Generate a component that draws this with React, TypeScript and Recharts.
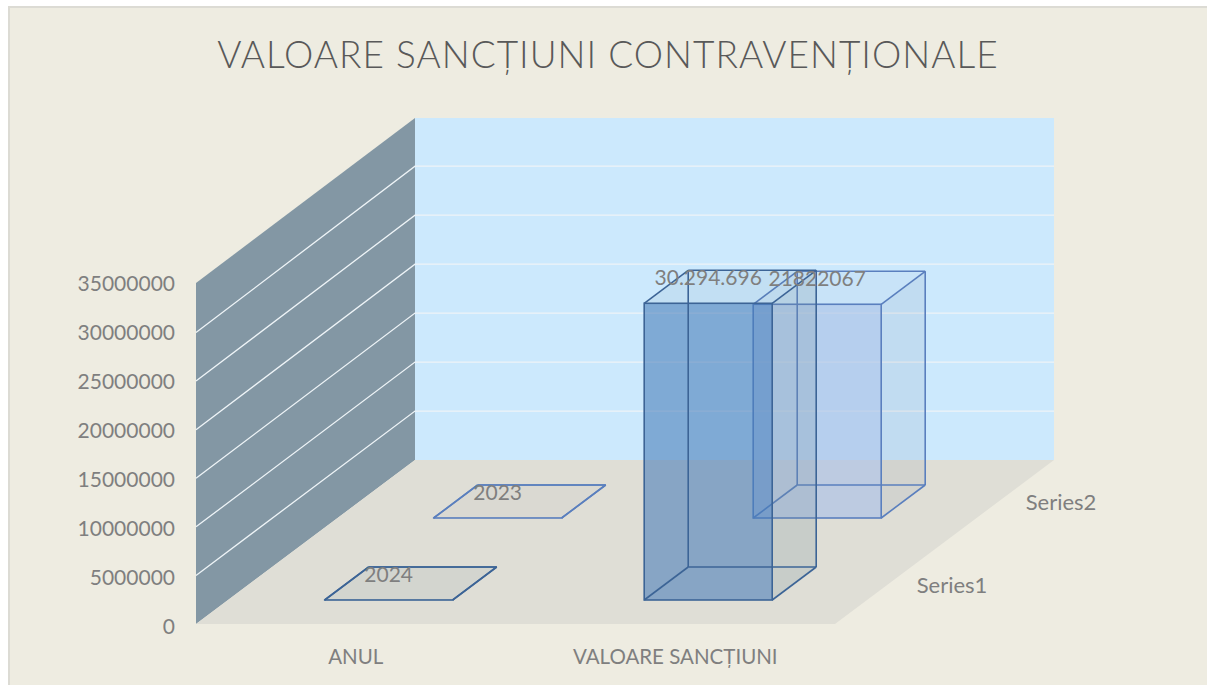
import { Bar, BarChart, CartesianGrid, LabelList, XAxis, YAxis } from "recharts";

const categories = ["ANUL", "VALOARE SANCȚIUNI"];
const series1Values = [2024, 30294696];
const series2Values = [2023, 21822067];
const series1Labels = ["2024", "30.294.696"];
const series2Labels = ["2023", "21822067"];
const yTicks = [0, 5000000, 10000000, 15000000, 20000000, 25000000, 30000000, 35000000];
const depthLabels = ["Series1", "Series2"];

const chartData = categories.map((name, i) => ({
  name,
  series1: series1Values[i],
  series2: series2Values[i],
}));

const FONT = "Lato, 'Noto Sans', sans-serif";
const GREY = "#7f7f7f";

// floor corners, the wall runs back by DEPTH_X / DEPTH_Y
const LEFT = 196;
const RIGHT = 835;
const ZERO_Y = 624;
const TOP_Y = 281.2;
const DEPTH_X = 219;
const DEPTH_Y = 164;

const s1Look = { dx: 32.7, dy: -24, stroke: "#3c6496", front: "rgba(71,124,184,0.58)", side: "rgba(110,140,150,0.2)", top: "rgba(80,110,130,0.08)" };
const s2Look = { dx: 141.7, dy: -106, stroke: "#5a7fbe", front: "rgba(171,194,229,0.67)", side: "rgba(120,140,160,0.13)", top: "rgba(100,110,120,0.04)" };

const BOX_X = 44;
const BOX_Y = 33;

const pts = (list: number[][]) => list.map((p) => p.join(",")).join(" ");

function makeBox(look: typeof s1Look) {
  return (props: any) => {
    const x0 = props.x + look.dx;
    const x1 = x0 + props.width;
    const top = props.y + look.dy;
    const bot = top + props.height;
    const bx = BOX_X;
    const by = BOX_Y;
    const edges = [
      [x0 + bx, bot - by, x1 + bx, bot - by],
      [x0 + bx, top - by, x0 + bx, bot - by],
      [x0, bot, x0 + bx, bot - by],
      [x1, bot, x1 + bx, bot - by],
      [x0, top, x0 + bx, top - by],
      [x1, top, x1 + bx, top - by],
      [x0 + bx, top - by, x1 + bx, top - by],
      [x1 + bx, top - by, x1 + bx, bot - by],
    ];
    return (
      <g>
        <polygon points={pts([[x1, top], [x1 + bx, top - by], [x1 + bx, bot - by], [x1, bot]])} fill={look.side} />
        <polygon points={pts([[x0, top], [x1, top], [x1 + bx, top - by], [x0 + bx, top - by]])} fill={look.top} />
        <rect x={x0} y={top} width={props.width} height={props.height} fill={look.front} />
        {edges.map((e, i) => (
          <line key={i} x1={e[0]} y1={e[1]} x2={e[2]} y2={e[3]} stroke={look.stroke} strokeWidth={1.6} />
        ))}
        <rect x={x0} y={top} width={props.width} height={props.height} fill="none" stroke={look.stroke} strokeWidth={1.6} />
      </g>
    );
  };
}

function makeLabel(look: typeof s1Look, labels: string[]) {
  return (props: any) => (
    <text
      x={props.x + look.dx + props.width / 2}
      y={props.y + look.dy - 18}
      textAnchor="middle"
      fontFamily={FONT}
      fontSize={21}
      fill={GREY}
    >
      {labels[props.index]}
    </text>
  );
}

// grid line: up the left wall, then along the back wall
const wallLine = (props: any) => {
  if (Math.abs(props.y1 - ZERO_Y) < 1 || Math.abs(props.y1 - TOP_Y) < 1) return <g key={props.key} />;
  const leftY = ZERO_Y - (ZERO_Y - props.y1) * 0.992;
  const backY = props.y1 - DEPTH_Y;
  return (
    <polyline
      key={props.key}
      points={pts([[LEFT, leftY], [LEFT + DEPTH_X, backY], [RIGHT + DEPTH_X, backY]])}
      fill="none"
      stroke="#eef4f7"
      strokeWidth={1.3}
    />
  );
};

const yTick = (props: any) => (
  <text x={props.x} y={props.y + 10} textAnchor="end" fontFamily={FONT} fontSize={21} fill={GREY}>
    {props.payload.value}
  </text>
);

function Backdrop() {
  const topBack = ZERO_Y - DEPTH_Y - 342;
  const floorBack = ZERO_Y - DEPTH_Y;
  return (
    <svg width={1207} height={685} style={{ position: "absolute", left: 0, top: 0 }}>
      <rect x={8} y={6} width={1199} height={679} fill="#dcdbd4" />
      <rect x={10} y={8} width={1197} height={677} fill="#eeece1" />
      <polygon points={pts([[LEFT + DEPTH_X, topBack], [RIGHT + DEPTH_X, topBack], [RIGHT + DEPTH_X, floorBack], [LEFT + DEPTH_X, floorBack]])} fill="#cce9fd" />
      <polygon points={pts([[LEFT, 283], [LEFT + DEPTH_X, topBack], [LEFT + DEPTH_X, floorBack], [LEFT, ZERO_Y]])} fill="#8397a4" />
      <polygon points={pts([[LEFT, ZERO_Y], [LEFT + DEPTH_X, floorBack], [RIGHT + DEPTH_X, floorBack], [RIGHT, ZERO_Y]])} fill="#dfded6" />
    </svg>
  );
}

export default function App() {
  return (
    <div style={{ position: "absolute", left: 0, top: 0, width: 1207, height: 685, background: "#fff" }}>
      <Backdrop />
      <div style={{ position: "absolute", left: 0, top: 0 }}>
        <BarChart
          width={1207}
          height={685}
          data={chartData}
          barSize={128}
          barGap={-128}
          margin={{ top: TOP_Y, right: 372, bottom: 21, left: 106 }}
        >
          <text x={608} y={68} textAnchor="middle" fontFamily={FONT} fontSize={37} fontWeight={300} letterSpacing={1} fill="#595959">
            VALOARE SANCȚIUNI CONTRAVENȚIONALE
          </text>
          <CartesianGrid vertical={false} horizontal={wallLine} />
          <XAxis
            dataKey="name"
            axisLine={false}
            tickLine={false}
            tickSize={0}
            tickMargin={25}
            height={40}
            interval={0}
            tick={{ fill: GREY, fontSize: 20.5, fontFamily: FONT }}
          />
          <YAxis
            type="number"
            domain={[0, 35000000]}
            ticks={yTicks}
            interval={0}
            axisLine={false}
            tickLine={false}
            tickSize={0}
            tickMargin={21}
            width={90}
            tick={yTick}
          />
          <Bar dataKey="series2" isAnimationActive={false} shape={makeBox(s2Look)}>
            <LabelList dataKey="series2" content={makeLabel(s2Look, series2Labels)} />
          </Bar>
          <Bar dataKey="series1" isAnimationActive={false} shape={makeBox(s1Look)}>
            <LabelList dataKey="series1" content={makeLabel(s1Look, series1Labels)} />
          </Bar>
          <text x={952} y={593} textAnchor="middle" fontFamily={FONT} fontSize={22} fill={GREY}>
            {depthLabels[0]}
          </text>
          <text x={1061} y={510} textAnchor="middle" fontFamily={FONT} fontSize={22} fill={GREY}>
            {depthLabels[1]}
          </text>
        </BarChart>
      </div>
    </div>
  );
}
